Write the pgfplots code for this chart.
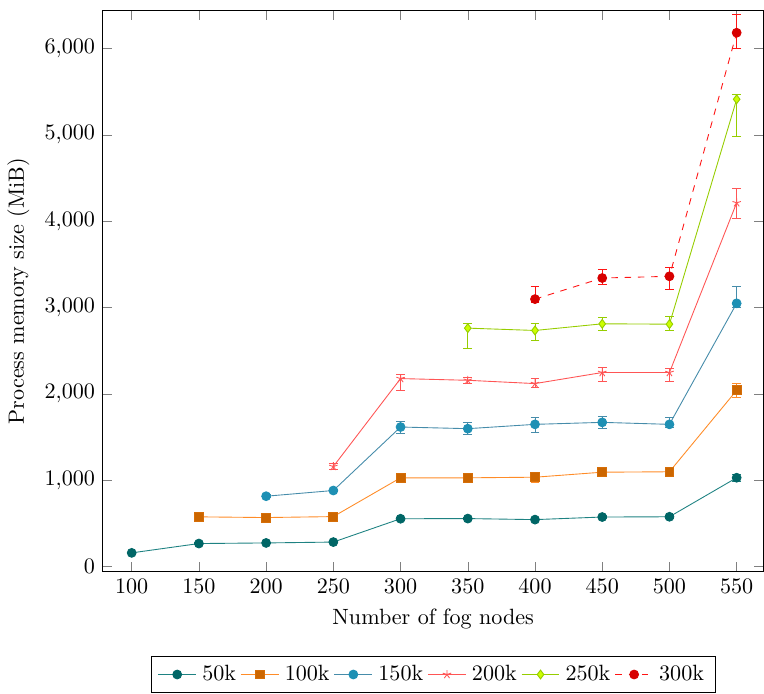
\documentclass[border=0pt]{standalone}
\usepackage{pgfplots}
\pgfplotsset{compat=1.18}
\definecolor{l50}{RGB}{30,130,130}
\definecolor{m50}{RGB}{0,102,102}
\definecolor{l100}{RGB}{255,140,40}
\definecolor{m100}{RGB}{204,102,0}
\definecolor{l150}{RGB}{70,140,170}
\definecolor{m150}{RGB}{30,144,180}
\definecolor{l200}{RGB}{255,85,85}
\definecolor{l250}{RGB}{150,205,0}
\definecolor{m250}{RGB}{204,255,0}
\definecolor{l300}{RGB}{255,20,20}
\definecolor{m300}{RGB}{215,0,0}
\begin{document}
\begin{tikzpicture}
\begin{axis}[
  scale only axis,
  width=299pt, height=254pt,
  xmin=78.5, xmax=570,
  ymin=-58, ymax=6441,
  xtick={100,150,...,550},
  ytick={0,1000,...,6000},
  xlabel={Number of fog nodes},
  ylabel={Process memory size (MiB)},
  legend style={at={(0.5,-0.15)},anchor=north,legend columns=6,/tikz/every odd column/.append style={column sep=0.6pt}},
  error bars/y dir=both, error bars/y explicit,
  every axis plot/.append style={thin},
]
\addplot[color=l50, mark=*, mark options={fill=m50,draw=m50,solid}, error bars/error bar style={color=l50}] coordinates {
(100,160) +- (0,10)
(150,268) +- (0,10)
(200,275) +- (0,10)
(250,285) +- (0,10)
(300,555) +- (0,15)
(350,557) +- (0,15)
(400,545) +- (0,15)
(450,575) +- (0,15)
(500,578) +- (0,15)
(550,1030) +- (0,40)
};
\addlegendentry{50k}
\addplot[color=l100, mark=square*, mark options={fill=m100,draw=m100!80!l100,solid}, error bars/error bar style={color=l100}] coordinates {
(150,577) +- (0,15)
(200,569) +- (0,15)
(250,580) +- (0,15)
(300,1029) +- (0,15)
(350,1029) +- (0,15)
(400,1036) +- (0,60)
(450,1094) +- (0,20)
(500,1099) +- (0,20)
(550,2042) +- (0,85)
};
\addlegendentry{100k}
\addplot[color=l150, mark=otimes*, mark options={fill=m150,draw=m150,solid}, error bars/error bar style={color=l150}] coordinates {
(200,816) +- (0,15)
(250,882) +- (0,15)
(300,1617) += (0,70) -= (0,70)
(350,1598) += (0,75) -= (0,70)
(400,1648) += (0,75) -= (0,90)
(450,1671) += (0,65) -= (0,70)
(500,1648) += (0,80) -= (0,40)
(550,3049) += (0,190) -= (0,50)
};
\addlegendentry{150k}
\addplot[color=l200, mark=star, mark options={solid}, error bars/error bar style={color=l200}] coordinates {
(250,1160) +- (0,35)
(300,2178) += (0,45) -= (0,135)
(350,2158) += (0,35) -= (0,35)
(400,2120) += (0,65) -= (0,50)
(450,2248) += (0,55) -= (0,100)
(500,2248) += (0,50) -= (0,100)
(550,4213) += (0,170) -= (0,185)
};
\addlegendentry{200k}
\addplot[color=l250, mark=diamond*, mark options={fill=m250,draw=l250,solid}, error bars/error bar style={color=l250}] coordinates {
(350,2762) += (0,50) -= (0,232)
(400,2735) += (0,81) -= (0,112)
(450,2812) += (0,78) -= (0,81)
(500,2808) += (0,85) -= (0,77)
(550,5412) += (0,54) -= (0,430)
};
\addlegendentry{250k}
\addplot[color=l300, dashed, mark=*, mark options={fill=m300,draw=m300,solid}, error bars/error bar style={color=l300,solid}] coordinates {
(400,3098) += (0,148) -= (0,35)
(450,3342) += (0,96) -= (0,69)
(500,3362) += (0,100) -= (0,156)
(550,6182) += (0,212) -= (0,182)
};
\addlegendentry{300k}
\end{axis}
\path (current axis.north) ++(0,4.7pt);
\end{tikzpicture}
\end{document}
